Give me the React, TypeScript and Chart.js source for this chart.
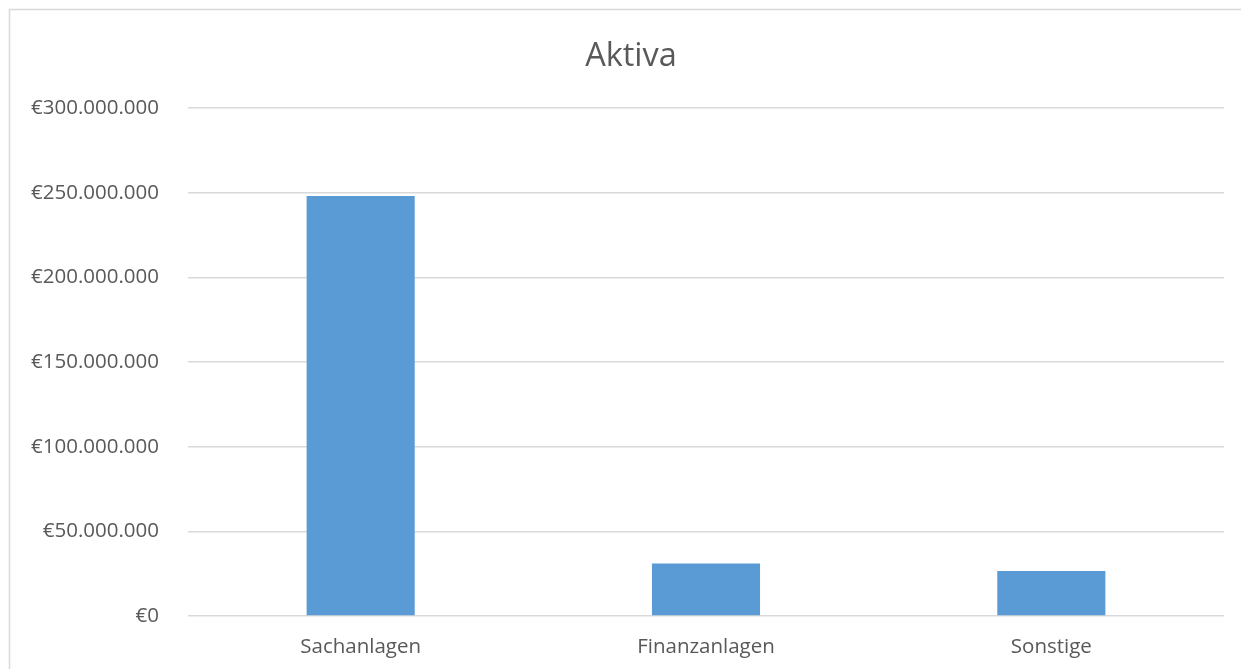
import React, { useEffect, useRef } from "react";
import { Chart, registerables } from "chart.js";

Chart.register(...registerables);

const titleText = "Aktiva";
const categories = ["Sachanlagen", "Finanzanlagen", "Sonstige"];
const values = [248000000, 31000000, 26600000];
const yMin = 0;
const yMax = 300000000;
const yStep = 50000000;

const FONT = "'Open Sans', 'DejaVu Sans', sans-serif";
const TEXT = "#595959";
const GRID = "#D9D9D9";
const BAR = "#5B9BD5";

function formatEuro(v: number): string {
  const s = Math.round(v).toString().replace(/\B(?=(\d{3})+(?!\d))/g, ".");
  return "€" + s;
}

const framePlugin = {
  id: "frameAndTitle",
  beforeDraw(chart: any) {
    const ctx = chart.ctx;
    ctx.save();
    ctx.fillStyle = "#ffffff";
    ctx.fillRect(0, 0, chart.width, chart.height);
    ctx.strokeStyle = GRID;
    ctx.lineWidth = 1.5;
    ctx.strokeRect(9.5, 9.5, chart.width + 20, chart.height + 20);
    ctx.restore();
  },
  afterDraw(chart: any) {
    const ctx = chart.ctx;
    ctx.save();
    ctx.fillStyle = TEXT;
    ctx.font = `32.5px ${FONT}`;
    ctx.textAlign = "center";
    ctx.textBaseline = "alphabetic";
    ctx.fillText(titleText, 631, 66);
    ctx.restore();
  },
};

export default function App() {
  const ref = useRef<HTMLCanvasElement | null>(null);
  useEffect(() => {
    if (!ref.current) return;
    const chart = new Chart(ref.current, {
      type: "bar",
      data: {
        labels: categories,
        datasets: [
          {
            data: values,
            backgroundColor: BAR,
            borderWidth: 0,
            categoryPercentage: 1,
            barPercentage: 0.313,
          },
        ],
      },
      options: {
        responsive: false,
        animation: false,
        maintainAspectRatio: false,
        layout: { padding: { top: 108, right: 17, bottom: 0, left: 0 } },
        plugins: {
          legend: { display: false },
          title: { display: false },
          tooltip: { enabled: false },
        },
        scales: {
          x: {
            grid: { display: false, drawTicks: false },
            border: { display: false },
            ticks: {
              color: TEXT,
              font: { family: FONT, size: 20.5 },
              padding: 19,
              maxRotation: 0,
            },
            afterFit(scale: any) {
              scale.height = 53;
            },
          },
          y: {
            min: yMin,
            max: yMax,
            grid: { color: GRID, lineWidth: 1.5, drawTicks: false },
            border: { display: false },
            ticks: {
              stepSize: yStep,
              color: TEXT,
              font: { family: FONT, size: 20.5 },
              padding: 29,
              callback: (v: any) => formatEuro(Number(v)),
            },
            afterFit(scale: any) {
              scale.width = 188;
            },
          },
        },
      },
      plugins: [framePlugin],
    });
    return () => chart.destroy();
  }, []);
  return (
    <div style={{ position: "fixed", left: 0, top: 0, width: 1241, height: 669, background: "#fff" }}>
      <canvas ref={ref} width={1241} height={669} style={{ display: "block", width: 1241, height: 669 }} />
    </div>
  );
}
